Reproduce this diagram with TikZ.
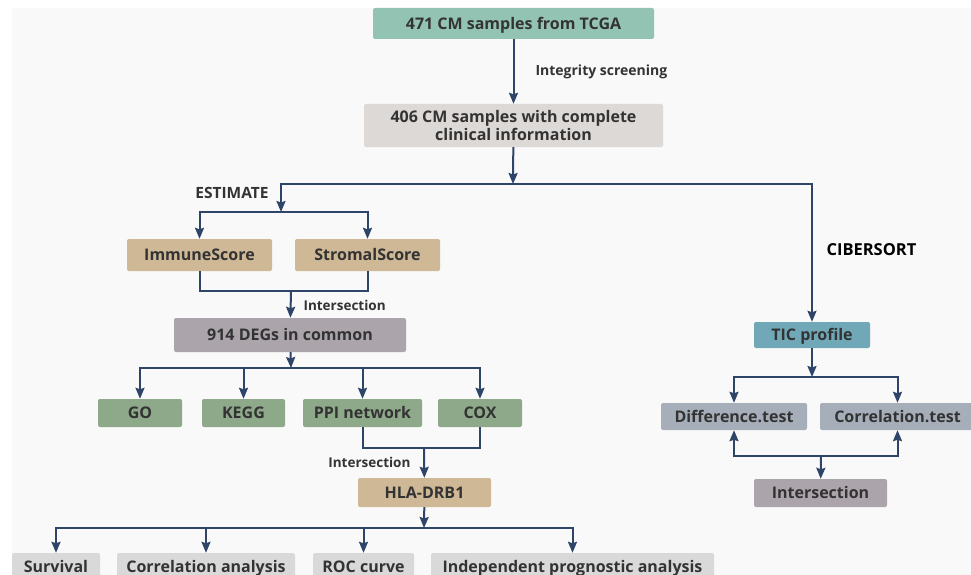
\documentclass[tikz,border=0pt]{standalone}
\usepackage{fontspec}
\setmainfont{Open Sans}
\usetikzlibrary{arrows.meta}
\usepackage{xcolor}
\definecolor{bgc}{HTML}{F9F9F9}
\definecolor{navy}{HTML}{2E4468}
\definecolor{txt}{HTML}{333333}
\definecolor{tcgac}{HTML}{93C3B2}
\definecolor{clinc}{HTML}{DDD9D6}
\definecolor{tanc}{HTML}{CFB896}
\definecolor{degc}{HTML}{ABA4AB}
\definecolor{enrc}{HTML}{8EA98A}
\definecolor{ticc}{HTML}{70A8B8}
\definecolor{tstc}{HTML}{A6AEB9}
\definecolor{lowc}{HTML}{D9D9D9}

\tikzset{
  boxbase/.style={fill=#1, rounded corners=2pt, inner sep=0, text=txt,
    font=\fontsize{16}{18}\selectfont\bfseries, align=center},
  box/.style={boxbase=#1, text height=11.5pt, text depth=0pt},
  lbl/.style={text=txt, font=\fontsize{13.5}{16}\selectfont\bfseries},
  link/.style={draw=navy, line width=2pt, -{Stealth[length=11pt,width=9pt,inset=1.5pt]}}
}

\begin{document}
\begin{tikzpicture}[x=1pt, y=-1pt]
\useasboundingbox (0,0) rectangle (971,575);
\clip (0,0) rectangle (971,575);
\fill[white] (0,0) rectangle (971,575);
\fill[bgc] (12,8) rectangle (971,575);
% main trunk
\node[box=tcgac, minimum width=281, minimum height=31] (tcga) at (513.5,23.5) {471 CM samples from TCGA};
\node[boxbase=clinc, minimum width=299, minimum height=43] (clin) at (513.5,125.5) {406 CM samples with complete\\clinical information};
\node[lbl, anchor=west, font=\fontsize{14}{16}\selectfont\bfseries] (integ) at (532,72) {Integrity screening};
\coordinate (top) at (513,184);
\coordinate (est) at (281,212);
\node[lbl, font=\fontsize{15.5}{17}\selectfont\bfseries] (estim) at (232,193) {ESTIMATE};
\node[lbl, anchor=west, text=black, font=\fontsize{16.5}{18}\selectfont\bfseries] (cibers) at (823,250) {CIBERSORT};
% scores
\node[box=tanc, minimum width=145, minimum height=32] (immune) at (199.5,255) {ImmuneScore};
\node[box=tanc, minimum width=145, minimum height=32] (stromal) at (367.5,255) {StromalScore};
\coordinate (int1) at (291,291);
\node[lbl, anchor=west] (intlbl1) at (300,305) {Intersection};
\node[box=degc, minimum width=232, minimum height=34] (deg) at (290,335) {914 DEGs in common};
% enrichment
\coordinate (enr) at (291,368);
\node[box=enrc, minimum width=84, minimum height=28] (go) at (140,413) {GO};
\node[box=enrc, minimum width=83, minimum height=28] (kegg) at (243.5,413) {KEGG};
\node[box=enrc, minimum width=119, minimum height=28] (ppi) at (362.5,413) {PPI network};
\node[box=enrc, minimum width=84, minimum height=28] (cox) at (480,413) {COX};
\coordinate (int2) at (424,448);
\node[lbl, anchor=east] (intlbl2) at (414,462) {Intersection};
\node[box=tanc, minimum width=133, minimum height=29] (hla) at (424.5,492.5) {HLA-DRB1};
% validation
\coordinate (val) at (424,528);
\node[box=lowc, minimum width=88, minimum height=28] (surv) at (56,567) {Survival};
\node[box=lowc, minimum width=178, minimum height=28] (corr) at (206,567) {Correlation analysis};
\node[box=lowc, minimum width=101, minimum height=28] (roc) at (363.5,567) {ROC curve};
\node[box=lowc, minimum width=283, minimum height=28] (indep) at (572.5,567) {Independent prognostic analysis};
% immune cells
\node[box=ticc, minimum width=116, minimum height=26] (tic) at (812,335) {TIC profile};
\coordinate (tics) at (812,377);
\node[box=tstc, minimum width=146, minimum height=27] (diff) at (734,416.5) {Difference.test};
\node[box=tstc, minimum width=155, minimum height=27] (ctest) at (897.5,416.5) {Correlation.test};
\coordinate (int3) at (821,456);
\node[box=degc, minimum width=133, minimum height=28] (inter) at (820.5,493) {Intersection};

\draw[link] (tcga) -- (clin);
\draw[link] (clin) -- (top);
\draw[link] (top) -| (est);
\draw[link] (top) -| (tic);
\draw[link] (est) -| (immune);
\draw[link] (est) -| (stromal);
\draw[link, -] (immune) |- (int1) -| (stromal);
\draw[link] (int1) -- (deg);
\draw[link] (deg) -- (enr);
\foreach \n in {go,kegg,ppi,cox}
  \draw[link] (enr) -| (\n);
\draw[link, -] (ppi) |- (int2) -| (cox);
\draw[link] (int2) -- (hla);
\draw[link] (hla) -- (val);
\foreach \n in {surv,corr,roc,indep}
  \draw[link] (val) -| (\n);
\draw[link] (tic) -- (tics);
\draw[link] (tics) -| (diff);
\draw[link] (tics) -| (ctest);
\draw[link] (int3) -| (diff);
\draw[link] (int3) -| (ctest);
\draw[link] (int3) -- (inter);
\end{tikzpicture}
\end{document}
